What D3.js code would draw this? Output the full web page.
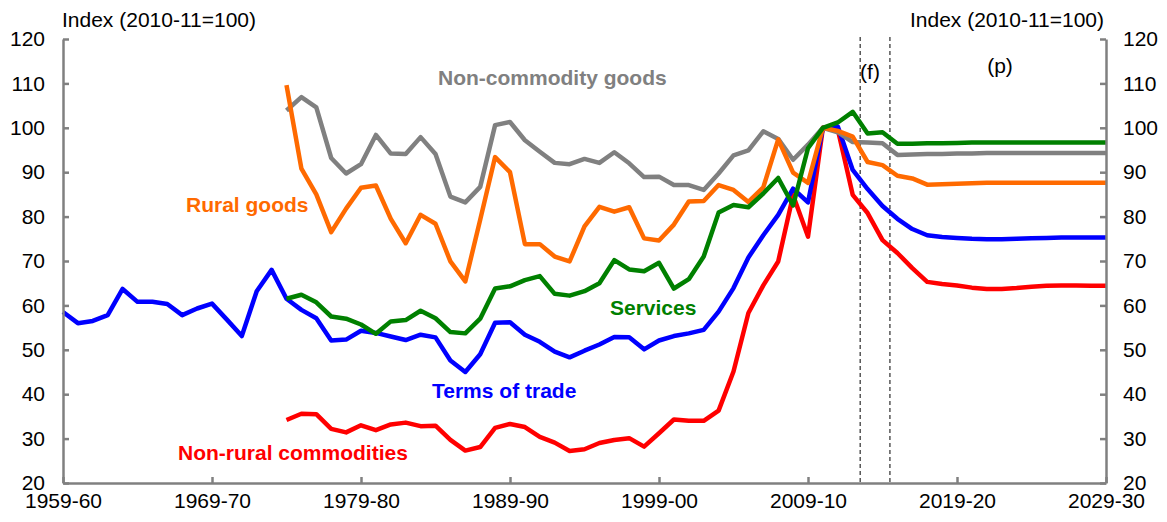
<!DOCTYPE html>
<html lang="en">
<head>
<meta charset="utf-8">
<script src="https://d3js.org/d3.v7.min.js"></script>
<style>
  body { margin: 0; background: #fff; }
  svg { font-family: Arial, "Liberation Sans", sans-serif; }
  .axis path, .axis line { stroke: #808080; stroke-width: 2.5px; }
  .axis text { font-size: 21px; fill: #000; }
  .series { fill: none; stroke-width: 4.5px; stroke-linejoin: round; }
  .lbl { font-weight: bold; font-size: 21px; }
</style>
</head>
<body>
<svg width="1167" height="522"></svg>
<script>
// years 1959-60 .. 2029-30, index 0..70
var tickLabels = ["1959-60", "1969-70", "1979-80", "1989-90", "1999-00", "2009-10", "2019-20", "2029-30"];
var yTicks = [20, 30, 40, 50, 60, 70, 80, 90, 100, 110, 120];

var termsOfTrade = [58.5, 56, 56.5, 57.8, 63.7, 60.8, 60.8, 60.3, 57.8, 59.3,
  60.4, 56.8, 53.1, 63.2, 68, 61.5, 59, 57.1, 52.1, 52.3,
  54.3, 53.8, 53, 52.2, 53.4, 52.8, 47.6, 45, 49, 56.1,
  56.2, 53.4, 51.8, 49.6, 48.3, 49.8, 51.2, 52.9, 52.8, 50.1,
  52.1, 53.1, 53.7, 54.5, 58.6, 63.9, 70.8, 75.8, 80.4, 86.3,
  83.2, 100, 100.3, 90.5, 86.2, 82.4, 79.5, 77.2, 75.8, 75.4,
  75.2, 75.0, 74.9, 74.9, 75.0, 75.1, 75.2, 75.3, 75.3, 75.3, 75.3];

var nonRural = [null, null, null, null, null, null, null, null, null, null,
  null, null, null, null, null, 34.2, 35.6, 35.5, 32.2, 31.4,
  33.0, 31.9, 33.2, 33.6, 32.8, 32.9, 29.7, 27.3, 28.1, 32.4,
  33.3, 32.6, 30.4, 29.1, 27.2, 27.6, 29.0, 29.7, 30.1, 28.2,
  31.2, 34.3, 34.0, 34.0, 36.3, 45.1, 58.3, 64.5, 69.9, 84.8,
  75.5, 100, 99.6, 84.9, 80.8, 74.7, 71.8, 68.4, 65.3, 64.8,
  64.5, 64.0, 63.7, 63.7, 63.9, 64.2, 64.4, 64.5, 64.5, 64.4, 64.4];

var services = [null, null, null, null, null, null, null, null, null, null,
  null, null, null, null, null, 61.5, 62.4, 60.7, 57.5, 57.0,
  55.7, 53.6, 56.4, 56.7, 58.8, 57.1, 54.0, 53.7, 57.0, 63.8,
  64.3, 65.7, 66.6, 62.6, 62.2, 63.2, 65.0, 70.2, 68.1, 67.7,
  69.6, 63.8, 65.9, 71.0, 80.9, 82.6, 82.1, 85.2, 88.7, 82.5,
  95.4, 100, 101.2, 103.6, 98.7, 99.0, 96.4, 96.4, 96.5, 96.5,
  96.6, 96.7, 96.7, 96.7, 96.7, 96.7, 96.7, 96.7, 96.7, 96.7, 96.7];

var nonCommodity = [null, null, null, null, null, null, null, null, null, null,
  null, null, null, null, null, 103.9, 106.9, 104.6, 93.2, 89.7,
  91.8, 98.4, 94.2, 94.1, 97.9, 94.1, 84.5, 83.2, 86.7, 100.6,
  101.3, 97.2, 94.6, 92.1, 91.8, 93.0, 92.1, 94.5, 92.0, 88.9,
  89.0, 87.1, 87.1, 86.0, 89.7, 93.8, 94.9, 99.2, 97.5, 92.8,
  96.2, 100, 99.0, 96.8, 96.7, 96.5, 93.9, 94.0, 94.1, 94.1,
  94.2, 94.2, 94.3, 94.3, 94.3, 94.3, 94.3, 94.3, 94.3, 94.3, 94.3];

var ruralGoods = [null, null, null, null, null, null, null, null, null, null,
  null, null, null, null, null, 109.6, 90.8, 85.0, 76.5, 81.8,
  86.5, 87.0, 79.5, 74.0, 80.4, 78.4, 69.9, 65.4, 79.3, 93.4,
  90.0, 73.8, 73.8, 71.0, 69.9, 77.8, 82.2, 81.1, 82.1, 75.1,
  74.6, 78.2, 83.4, 83.5, 87.1, 86.0, 83.3, 86.6, 97.4, 89.9,
  87.6, 100, 99.3, 98.0, 92.3, 91.6, 89.2, 88.6, 87.2, 87.3,
  87.4, 87.5, 87.6, 87.6, 87.6, 87.6, 87.6, 87.6, 87.6, 87.6, 87.6];

var seriesNames = ["Non-commodity goods", "Rural goods", "Services", "Terms of trade", "Non-rural commodities"];
var seriesData = [nonCommodity, ruralGoods, services, termsOfTrade, nonRural];
var seriesColors = ["#808080", "#ff6a00", "#008000", "#0000ff", "#ff0000"];

// forecast / projection boundaries (between years)
var splits = [53.5, 55.5];

var svg = d3.select("svg");

var x = d3.scaleLinear().domain([0, 70]).range([63, 1106]);
var y = d3.scaleLinear().domain([20, 120]).range([483, 39]);

// dashed boundaries
svg.selectAll(".split")
  .data(splits)
  .enter().append("line")
    .attr("x1", function(d) { return x(d); })
    .attr("x2", function(d) { return x(d); })
    .attr("y1", 37)
    .attr("y2", y(20))
    .attr("stroke", "#000")
    .attr("stroke-width", 1)
    .attr("stroke-dasharray", "4,3");

// lines
var line = d3.line()
  .defined(function(d) { return d != null; })
  .x(function(d, i) { return x(i); })
  .y(function(d) { return y(d); });

// draw order: red, blue, grey, orange, green on top
[4, 3, 0, 1, 2].forEach(function(k) {
  svg.append("path")
    .attr("class", "series")
    .attr("stroke", seriesColors[k])
    .attr("d", line(seriesData[k]));
});

// axes
svg.append("g")
  .attr("class", "axis")
  .attr("transform", "translate(" + x(0) + ",0)")
  .call(d3.axisLeft(y).tickValues(yTicks).tickSize(-6).tickSizeOuter(0).tickPadding(18));

svg.append("g")
  .attr("class", "axis")
  .attr("transform", "translate(" + x(70) + ",0)")
  .call(d3.axisRight(y).tickValues(yTicks).tickSize(-6).tickSizeOuter(0).tickPadding(17));

svg.append("g")
  .attr("class", "axis")
  .attr("transform", "translate(0," + y(20) + ")")
  .call(d3.axisBottom(x).tickValues(d3.range(0, 71, 10)).tickSize(-6).tickSizeOuter(0).tickPadding(10)
    .tickFormat(function(d, i) { return tickLabels[i]; }));

// unit labels
svg.append("text").attr("x", 62).attr("y", 27).attr("font-size", 21).text("Index (2010-11=100)");
svg.append("text").attr("x", 1104).attr("y", 27).attr("font-size", 21).attr("text-anchor", "end").text("Index (2010-11=100)");

svg.append("text").attr("x", 870).attr("y", 79).attr("font-size", 21).attr("text-anchor", "middle").text("(f)");
svg.append("text").attr("x", 1000).attr("y", 73).attr("font-size", 21).attr("text-anchor", "middle").text("(p)");

// series labels
var labelPos = [[438, 85], [186, 212], [610, 315], [432, 398], [178, 460]];
seriesNames.forEach(function(n, k) {
  svg.append("text")
    .attr("class", "lbl")
    .attr("x", labelPos[k][0])
    .attr("y", labelPos[k][1])
    .attr("fill", seriesColors[k])
    .text(n);
});
</script>
</body>
</html>
